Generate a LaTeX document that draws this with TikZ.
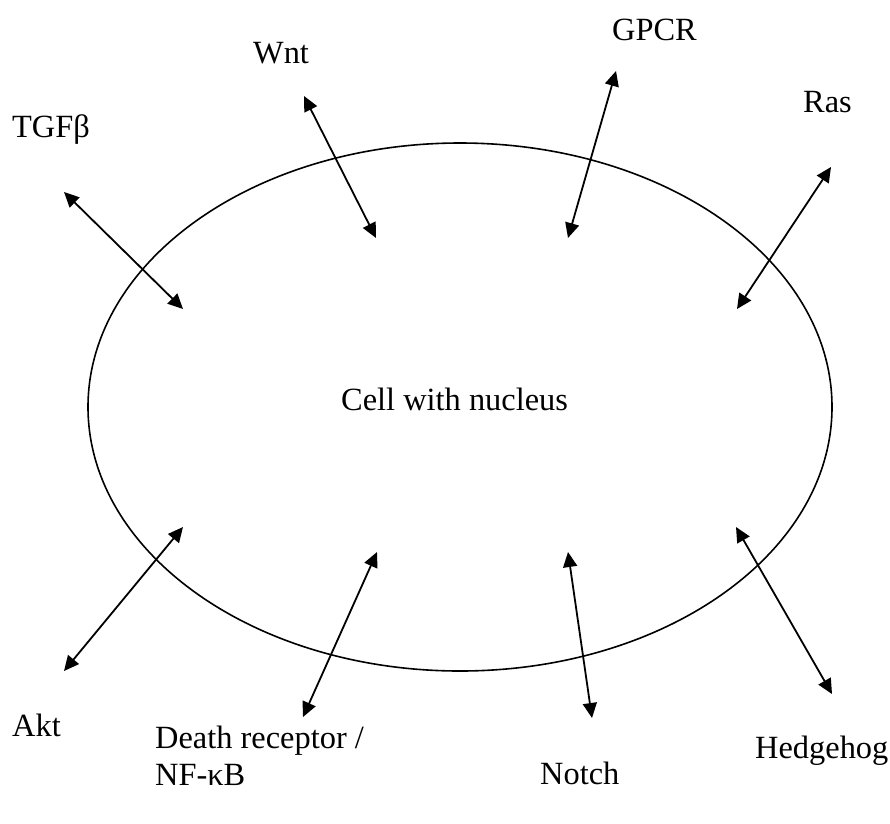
\documentclass[tikz,border=0pt]{standalone}
\usepackage{fontspec}
\setmainfont{Liberation Serif}
\usetikzlibrary{arrows.meta}
\tikzset{
	sigarrow/.style={line width=1.8pt, {Triangle[length=15pt,width=14pt]}-{Triangle[length=15pt,width=14pt]}},
	sig/.style={inner sep=0pt, anchor=base west, font=\fontsize{32.4}{37}\selectfont}
}

\begin{document}
\begin{tikzpicture}[x=1pt, y=-1pt]
			%%%%% START %%%%%
			
			\useasboundingbox (0, 0) rectangle (890, 823);
			
			\draw[line width=1.6pt] (460, 407) ellipse [x radius=372pt, y radius=264pt];
			\node[sig] (cell) at (341, 410) {Cell with nucleus};
			
			\node[sig] (tgfb) at (12, 137) {TGFβ};
			\node[sig] (wnt) at (253, 63) {Wnt};
			\node[sig] (gpcr) at (612, 40) {GPCR};
			\node[sig] (ras) at (803, 112) {Ras};
			\node[sig] (akt) at (12, 736) {Akt};
			\node[sig, align=left] (death) at (155, 785) {Death receptor /\\NF-κB};
			\node[sig] (notch) at (540, 784) {Notch};
			\node[sig] (hh) at (755, 758) {Hedgehog};
			
			\coordinate (tgfbout) at (64, 192);
			\coordinate (tgfbin) at (183, 309);
			\coordinate (wntout) at (304, 96);
			\coordinate (wntin) at (376, 238);
			\coordinate (gpcrout) at (616, 71);
			\coordinate (gpcrin) at (568, 238);
			\coordinate (rasout) at (831, 167);
			\coordinate (rasin) at (737, 309);
			\coordinate (aktout) at (64, 671);
			\coordinate (aktin) at (183, 527);
			\coordinate (deathout) at (303, 717);
			\coordinate (deathin) at (377, 552);
			\coordinate (notchout) at (592, 718);
			\coordinate (notchin) at (568, 552);
			\coordinate (hhout) at (832, 694);
			\coordinate (hhin) at (736, 527);
			
			\draw[sigarrow] (tgfbout) -- (tgfbin);
			\draw[sigarrow] (wntout) -- (wntin);
			\draw[sigarrow] (gpcrout) -- (gpcrin);
			\draw[sigarrow] (rasout) -- (rasin);
			\draw[sigarrow] (aktout) -- (aktin);
			\draw[sigarrow] (deathout) -- (deathin);
			\draw[sigarrow] (notchout) -- (notchin);
			\draw[sigarrow] (hhout) -- (hhin);
			
			%%%%% END %%%%%
		\end{tikzpicture}
\end{document}
